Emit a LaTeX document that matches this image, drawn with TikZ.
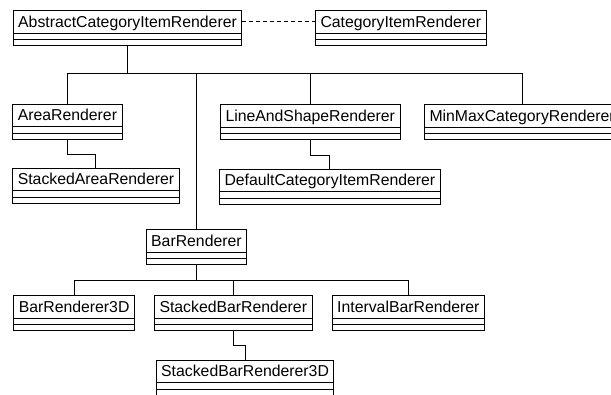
\documentclass[tikz,border=0pt]{standalone}
\usepackage{fontspec}
\setmainfont{Liberation Sans}
\usetikzlibrary{positioning}

\begin{document}
\begin{tikzpicture}[x=1pt,y=-1pt,font=\fontsize{15.8}{19}\selectfont,
 clase/.style={draw,line width=1pt,anchor=north west,inner xsep=5pt,inner ysep=0pt,text height=12pt,text depth=14pt,minimum height=35pt,
  path picture={\draw[line width=1pt] ([yshift=12.5pt]path picture bounding box.south west)--([yshift=12.5pt]path picture bounding box.south east)
   ([yshift=6pt]path picture bounding box.south west)--([yshift=6pt]path picture bounding box.south east);}},
 linea/.style={draw,line width=1pt},
 tronco/.style={draw,line width=1.8pt},
 realiza/.style={draw,line width=1pt,dash pattern=on 4pt off 3pt}]
\useasboundingbox (0,0) rectangle (611,394);
\node[clase] (abstracto) at (12.7,10) {AbstractCategoryItemRenderer};
\node[clase] (interfaz) at (315,10) {CategoryItemRenderer};
\node[clase] (area) at (12.3,103.5) {AreaRenderer};
\node[clase] (lineaforma) at (220,104) {LineAndShapeRenderer};
\node[clase] (minmax) at (424,104) {MinMaxCategoryRenderer};
\node[clase] (areaapilada) at (12.3,167.5) {StackedAreaRenderer};
\node[clase] (pordefecto) at (219,168.5) {DefaultCategoryItemRenderer};
\node[clase] (barra) at (145.7,229) {BarRenderer};
\node[clase] (barra3d) at (13.3,295) {BarRenderer3D};
\node[clase] (barraapilada) at (154,295) {StackedBarRenderer};
\node[clase] (intervalo) at (331.7,295) {IntervalBarRenderer};
\node[clase] (barraapilada3d) at (155.7,359.5) {StackedBarRenderer3D};
\draw[realiza] ([yshift=-11pt]abstracto.north east)--([yshift=-11pt]interfaz.north west);
\draw[tronco] (abstracto.south)--++(0,27.7) coordinate (nudo);
\draw[linea] (nudo)-|(area.north);
\draw[linea] (nudo)-|(lineaforma.north);
\draw[linea] (nudo)-|(minmax.north);
\draw[linea] (nudo)-|(barra.north);
\draw[linea] (area.south)--++(0,15)-|(areaapilada.north);
\draw[linea] (lineaforma.south)--++(0,15)-|(pordefecto.north);
\draw[tronco] (barra.south)--++(0,15.3) coordinate (nudobarra);
\draw[linea] (nudobarra)-|(barra3d.north);
\draw[linea] (nudobarra)-|(barraapilada.north);
\draw[linea] (nudobarra)-|(intervalo.north);
\draw[linea] (barraapilada.south)--++(0,14)-|(barraapilada3d.north);
\end{tikzpicture}
\end{document}
